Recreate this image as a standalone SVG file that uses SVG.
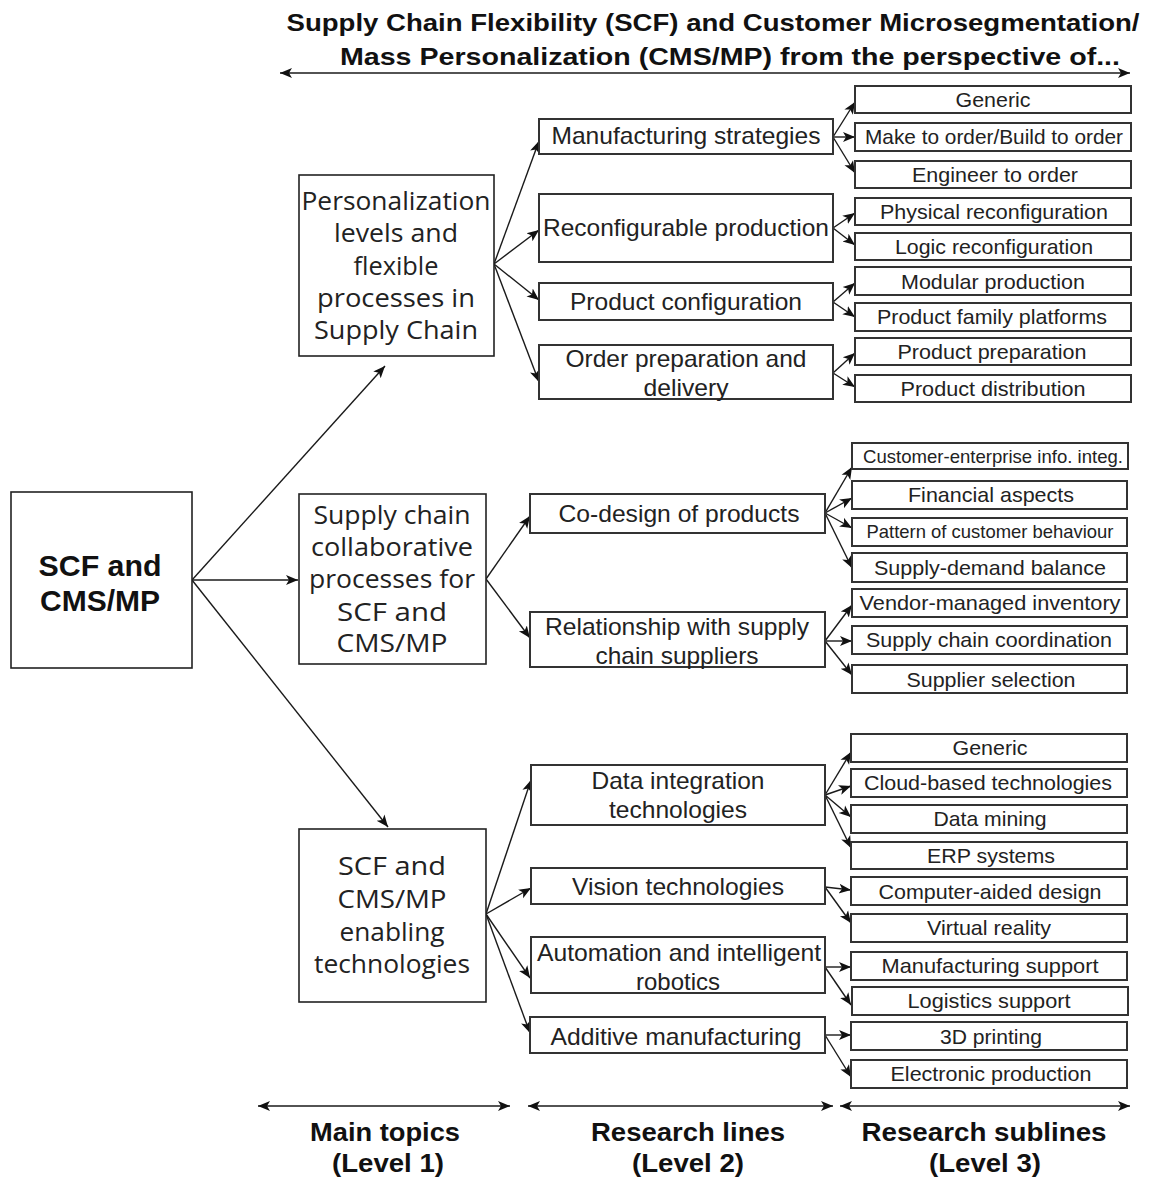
<svg xmlns="http://www.w3.org/2000/svg" width="1152" height="1178" viewBox="0 0 1152 1178">
<style>
.bx{fill:#fff;stroke:#333;stroke-width:2}
.bx1{fill:#fff;stroke:#222;stroke-width:1.6}
.c{fill:none;stroke:#1a1a1a;stroke-width:1.4}
text{text-anchor:middle;fill:#222}
.t1{font-family:"Open Sans","Liberation Sans",sans-serif;font-size:25px}
.t2{font-family:"Liberation Sans",Arial,sans-serif;font-size:24px}
.t3{font-family:"Liberation Sans",Arial,sans-serif;font-size:21px}
.t3s{font-family:"Liberation Sans",Arial,sans-serif;font-size:19px}
.hb{font-family:"Liberation Sans",Arial,sans-serif;font-weight:bold;fill:#111}
</style>
<defs>
<marker id="ah" markerUnits="userSpaceOnUse" markerWidth="13" markerHeight="13" viewBox="0 0 13 13" refX="12" refY="6.5" orient="auto-start-reverse">
<path d="M0,1.5 L12,6.5 L0,11.5 L3,6.5 z" fill="#111"/>
</marker>
</defs>

<g id="title">
<text class="hb" x="713" y="31" font-size="24" textLength="853" lengthAdjust="spacingAndGlyphs">Supply Chain Flexibility (SCF) and Customer Microsegmentation/</text>
<text class="hb" x="730" y="65" font-size="24" textLength="780" lengthAdjust="spacingAndGlyphs">Mass Personalization (CMS/MP) from the perspective of...</text>
</g>

<g id="connectors">
<line class="c" x1="280" y1="73" x2="1130" y2="73" marker-start="url(#ah)" marker-end="url(#ah)"/>
<line class="c" x1="258" y1="1106" x2="510" y2="1106" marker-start="url(#ah)" marker-end="url(#ah)"/>
<line class="c" x1="528" y1="1106" x2="833" y2="1106" marker-start="url(#ah)" marker-end="url(#ah)"/>
<line class="c" x1="840" y1="1106" x2="1130" y2="1106" marker-start="url(#ah)" marker-end="url(#ah)"/>

<line class="c" x1="192" y1="580" x2="385" y2="366" marker-end="url(#ah)"/>
<line class="c" x1="192" y1="580" x2="298" y2="580" marker-end="url(#ah)"/>
<line class="c" x1="192" y1="580" x2="388" y2="827" marker-end="url(#ah)"/>

<line class="c" x1="494" y1="264" x2="539" y2="141" marker-end="url(#ah)"/>
<line class="c" x1="494" y1="264" x2="539" y2="230" marker-end="url(#ah)"/>
<line class="c" x1="494" y1="264" x2="539" y2="300" marker-end="url(#ah)"/>
<line class="c" x1="494" y1="264" x2="539" y2="382" marker-end="url(#ah)"/>

<line class="c" x1="486" y1="579" x2="530" y2="516" marker-end="url(#ah)"/>
<line class="c" x1="486" y1="579" x2="530" y2="638" marker-end="url(#ah)"/>

<line class="c" x1="486" y1="914" x2="531" y2="780" marker-end="url(#ah)"/>
<line class="c" x1="486" y1="914" x2="531" y2="888" marker-end="url(#ah)"/>
<line class="c" x1="486" y1="914" x2="530" y2="978" marker-end="url(#ah)"/>
<line class="c" x1="486" y1="914" x2="530" y2="1033" marker-end="url(#ah)"/>

<line class="c" x1="833" y1="137" x2="855" y2="102" marker-end="url(#ah)"/>
<line class="c" x1="833" y1="137" x2="855" y2="137" marker-end="url(#ah)"/>
<line class="c" x1="833" y1="137" x2="855" y2="173" marker-end="url(#ah)"/>
<line class="c" x1="833" y1="228" x2="855" y2="213" marker-end="url(#ah)"/>
<line class="c" x1="833" y1="228" x2="855" y2="245" marker-end="url(#ah)"/>
<line class="c" x1="833" y1="302" x2="855" y2="283" marker-end="url(#ah)"/>
<line class="c" x1="833" y1="302" x2="855" y2="317" marker-end="url(#ah)"/>
<line class="c" x1="833" y1="373" x2="855" y2="353" marker-end="url(#ah)"/>
<line class="c" x1="833" y1="373" x2="855" y2="387" marker-end="url(#ah)"/>

<line class="c" x1="825" y1="513" x2="852" y2="467" marker-end="url(#ah)"/>
<line class="c" x1="825" y1="513" x2="852" y2="498" marker-end="url(#ah)"/>
<line class="c" x1="825" y1="513" x2="852" y2="528" marker-end="url(#ah)"/>
<line class="c" x1="825" y1="513" x2="852" y2="568" marker-end="url(#ah)"/>
<line class="c" x1="825" y1="641" x2="852" y2="605" marker-end="url(#ah)"/>
<line class="c" x1="825" y1="641" x2="852" y2="641" marker-end="url(#ah)"/>
<line class="c" x1="825" y1="641" x2="852" y2="675" marker-end="url(#ah)"/>

<line class="c" x1="825" y1="795" x2="851" y2="752" marker-end="url(#ah)"/>
<line class="c" x1="825" y1="795" x2="851" y2="786" marker-end="url(#ah)"/>
<line class="c" x1="825" y1="795" x2="851" y2="817" marker-end="url(#ah)"/>
<line class="c" x1="825" y1="795" x2="851" y2="848" marker-end="url(#ah)"/>
<line class="c" x1="825" y1="887" x2="851" y2="890" marker-end="url(#ah)"/>
<line class="c" x1="825" y1="887" x2="851" y2="923" marker-end="url(#ah)"/>
<line class="c" x1="825" y1="967" x2="851" y2="967" marker-end="url(#ah)"/>
<line class="c" x1="825" y1="967" x2="851" y2="1005" marker-end="url(#ah)"/>
<line class="c" x1="825" y1="1035" x2="851" y2="1035" marker-end="url(#ah)"/>
<line class="c" x1="825" y1="1035" x2="851" y2="1077" marker-end="url(#ah)"/>
</g>

<g id="root">
<rect class="bx1" x="11" y="492" width="181" height="176"/>
<text class="hb" x="100" y="576" font-size="30" textLength="123" lengthAdjust="spacingAndGlyphs">SCF and</text>
<text class="hb" x="100" y="611" font-size="30" textLength="120" lengthAdjust="spacingAndGlyphs">CMS/MP</text>
</g>

<g id="l1-personalization">
<rect class="bx1" x="299" y="175" width="195" height="181"/>
<text class="t1" x="396" y="210" textLength="189" lengthAdjust="spacingAndGlyphs">Personalization</text>
<text class="t1" x="396" y="242" textLength="124" lengthAdjust="spacingAndGlyphs">levels and</text>
<text class="t1" x="396" y="275" textLength="85" lengthAdjust="spacingAndGlyphs">flexible</text>
<text class="t1" x="396" y="307" textLength="158" lengthAdjust="spacingAndGlyphs">processes in</text>
<text class="t1" x="396" y="339" textLength="164" lengthAdjust="spacingAndGlyphs">Supply Chain</text>
</g>

<g id="l1-collaborative">
<rect class="bx1" x="299" y="494" width="187" height="170"/>
<text class="t1" x="392" y="524" textLength="157" lengthAdjust="spacingAndGlyphs">Supply chain</text>
<text class="t1" x="392" y="556" textLength="162" lengthAdjust="spacingAndGlyphs">collaborative</text>
<text class="t1" x="392" y="588" textLength="166" lengthAdjust="spacingAndGlyphs">processes for</text>
<text class="t1" x="392" y="621" textLength="110" lengthAdjust="spacingAndGlyphs">SCF and</text>
<text class="t1" x="392" y="652" textLength="111" lengthAdjust="spacingAndGlyphs">CMS/MP</text>
</g>

<g id="l1-technologies">
<rect class="bx1" x="299" y="829" width="187" height="173"/>
<text class="t1" x="392" y="875" textLength="108" lengthAdjust="spacingAndGlyphs">SCF and</text>
<text class="t1" x="392" y="908" textLength="109" lengthAdjust="spacingAndGlyphs">CMS/MP</text>
<text class="t1" x="392" y="941" textLength="105" lengthAdjust="spacingAndGlyphs">enabling</text>
<text class="t1" x="392" y="973" textLength="156" lengthAdjust="spacingAndGlyphs">technologies</text>
</g>

<g id="l2-manufacturing-strategies">
<rect class="bx" x="539" y="119" width="294" height="35"/>
<text class="t2" x="686" y="144" textLength="269" lengthAdjust="spacingAndGlyphs">Manufacturing strategies</text>
</g>
<g id="l2-reconfigurable">
<rect class="bx" x="539" y="194" width="294" height="68"/>
<text class="t2" x="686" y="236" textLength="286" lengthAdjust="spacingAndGlyphs">Reconfigurable production</text>
</g>
<g id="l2-product-configuration">
<rect class="bx" x="539" y="283" width="294" height="37"/>
<text class="t2" x="686" y="310" textLength="232" lengthAdjust="spacingAndGlyphs">Product configuration</text>
</g>
<g id="l2-order-preparation">
<rect class="bx" x="539" y="345" width="294" height="54"/>
<text class="t2" x="686" y="367" textLength="241" lengthAdjust="spacingAndGlyphs">Order preparation and</text>
<text class="t2" x="686" y="396" textLength="85" lengthAdjust="spacingAndGlyphs">delivery</text>
</g>

<g id="l3-generic-1"><rect class="bx" x="855" y="86" width="276" height="27"/><text class="t3" x="993" y="107" textLength="75" lengthAdjust="spacingAndGlyphs">Generic</text></g>
<g id="l3-mto"><rect class="bx" x="855" y="123" width="276" height="28"/><text class="t3" x="994" y="144" textLength="258" lengthAdjust="spacingAndGlyphs">Make to order/Build to order</text></g>
<g id="l3-eto"><rect class="bx" x="855" y="161" width="276" height="27"/><text class="t3" x="995" y="182" textLength="166" lengthAdjust="spacingAndGlyphs">Engineer to order</text></g>
<g id="l3-physical"><rect class="bx" x="855" y="198" width="276" height="27"/><text class="t3" x="994" y="219" textLength="228" lengthAdjust="spacingAndGlyphs">Physical reconfiguration</text></g>
<g id="l3-logic"><rect class="bx" x="855" y="233" width="276" height="27"/><text class="t3" x="994" y="254" textLength="198" lengthAdjust="spacingAndGlyphs">Logic reconfiguration</text></g>
<g id="l3-modular"><rect class="bx" x="855" y="267" width="276" height="28"/><text class="t3" x="993" y="289" textLength="184" lengthAdjust="spacingAndGlyphs">Modular production</text></g>
<g id="l3-family"><rect class="bx" x="855" y="303" width="276" height="28"/><text class="t3" x="992" y="324" textLength="230" lengthAdjust="spacingAndGlyphs">Product family platforms</text></g>
<g id="l3-prep"><rect class="bx" x="855" y="338" width="276" height="27"/><text class="t3" x="992" y="359" textLength="189" lengthAdjust="spacingAndGlyphs">Product preparation</text></g>
<g id="l3-distribution"><rect class="bx" x="855" y="375" width="276" height="27"/><text class="t3" x="993" y="396" textLength="185" lengthAdjust="spacingAndGlyphs">Product distribution</text></g>

<g id="l2-codesign">
<rect class="bx" x="530" y="494" width="295" height="39"/>
<text class="t2" x="679" y="522" textLength="241" lengthAdjust="spacingAndGlyphs">Co-design of products</text>
</g>
<g id="l2-relationship">
<rect class="bx" x="530" y="612" width="295" height="55"/>
<text class="t2" x="677" y="635" textLength="264" lengthAdjust="spacingAndGlyphs">Relationship with supply</text>
<text class="t2" x="677" y="664" textLength="163" lengthAdjust="spacingAndGlyphs">chain suppliers</text>
</g>

<g id="l3-cust-info"><rect class="bx" x="852" y="443" width="276" height="26"/><text class="t3s" x="993" y="463" textLength="260" lengthAdjust="spacingAndGlyphs">Customer-enterprise info. integ.</text></g>
<g id="l3-financial"><rect class="bx" x="852" y="481" width="275" height="28"/><text class="t3" x="991" y="502" textLength="166" lengthAdjust="spacingAndGlyphs">Financial aspects</text></g>
<g id="l3-pattern"><rect class="bx" x="852" y="518" width="275" height="28"/><text class="t3s" x="990" y="538" textLength="247" lengthAdjust="spacingAndGlyphs">Pattern of customer behaviour</text></g>
<g id="l3-supply-demand"><rect class="bx" x="852" y="553" width="275" height="29"/><text class="t3" x="990" y="575" textLength="232" lengthAdjust="spacingAndGlyphs">Supply-demand balance</text></g>
<g id="l3-vmi"><rect class="bx" x="852" y="589" width="275" height="28"/><text class="t3" x="990" y="610" textLength="261" lengthAdjust="spacingAndGlyphs">Vendor-managed inventory</text></g>
<g id="l3-coordination"><rect class="bx" x="852" y="626" width="275" height="28"/><text class="t3" x="989" y="647" textLength="246" lengthAdjust="spacingAndGlyphs">Supply chain coordination</text></g>
<g id="l3-supplier"><rect class="bx" x="852" y="665" width="275" height="28"/><text class="t3" x="991" y="687" textLength="169" lengthAdjust="spacingAndGlyphs">Supplier selection</text></g>

<g id="l2-data-integration">
<rect class="bx" x="531" y="765" width="294" height="60"/>
<text class="t2" x="678" y="789" textLength="173" lengthAdjust="spacingAndGlyphs">Data integration</text>
<text class="t2" x="678" y="818" textLength="138" lengthAdjust="spacingAndGlyphs">technologies</text>
</g>
<g id="l2-vision">
<rect class="bx" x="531" y="868" width="294" height="36"/>
<text class="t2" x="678" y="895" textLength="212" lengthAdjust="spacingAndGlyphs">Vision technologies</text>
</g>
<g id="l2-automation">
<rect class="bx" x="531" y="937" width="294" height="56"/>
<text class="t2" x="679" y="961" textLength="284" lengthAdjust="spacingAndGlyphs">Automation and intelligent</text>
<text class="t2" x="678" y="990" textLength="84" lengthAdjust="spacingAndGlyphs">robotics</text>
</g>
<g id="l2-additive">
<rect class="bx" x="530" y="1017" width="295" height="36"/>
<text class="t2" x="676" y="1045" textLength="251" lengthAdjust="spacingAndGlyphs">Additive manufacturing</text>
</g>

<g id="l3-generic-3"><rect class="bx" x="851" y="734" width="276" height="28"/><text class="t3" x="990" y="755" textLength="75" lengthAdjust="spacingAndGlyphs">Generic</text></g>
<g id="l3-cloud"><rect class="bx" x="851" y="769" width="276" height="28"/><text class="t3" x="988" y="790" textLength="248" lengthAdjust="spacingAndGlyphs">Cloud-based technologies</text></g>
<g id="l3-mining"><rect class="bx" x="851" y="805" width="276" height="28"/><text class="t3" x="990" y="826" textLength="113" lengthAdjust="spacingAndGlyphs">Data mining</text></g>
<g id="l3-erp"><rect class="bx" x="851" y="842" width="276" height="27"/><text class="t3" x="991" y="863" textLength="128" lengthAdjust="spacingAndGlyphs">ERP systems</text></g>
<g id="l3-cad"><rect class="bx" x="851" y="877" width="276" height="28"/><text class="t3" x="990" y="899" textLength="223" lengthAdjust="spacingAndGlyphs">Computer-aided design</text></g>
<g id="l3-vr"><rect class="bx" x="851" y="914" width="276" height="28"/><text class="t3" x="989" y="935" textLength="124" lengthAdjust="spacingAndGlyphs">Virtual reality</text></g>
<g id="l3-mfg-support"><rect class="bx" x="851" y="952" width="276" height="28"/><text class="t3" x="990" y="973" textLength="217" lengthAdjust="spacingAndGlyphs">Manufacturing support</text></g>
<g id="l3-logistics"><rect class="bx" x="852" y="987" width="276" height="28"/><text class="t3" x="989" y="1008" textLength="163" lengthAdjust="spacingAndGlyphs">Logistics support</text></g>
<g id="l3-3d"><rect class="bx" x="851" y="1022" width="276" height="28"/><text class="t3" x="991" y="1044" textLength="102" lengthAdjust="spacingAndGlyphs">3D printing</text></g>
<g id="l3-electronic"><rect class="bx" x="851" y="1060" width="276" height="28"/><text class="t3" x="991" y="1081" textLength="201" lengthAdjust="spacingAndGlyphs">Electronic production</text></g>

<g id="footer">
<text class="hb" x="385" y="1141" font-size="25" textLength="150" lengthAdjust="spacingAndGlyphs">Main topics</text>
<text class="hb" x="388" y="1172" font-size="25" textLength="112" lengthAdjust="spacingAndGlyphs">(Level 1)</text>
<text class="hb" x="688" y="1141" font-size="25" textLength="194" lengthAdjust="spacingAndGlyphs">Research lines</text>
<text class="hb" x="688" y="1172" font-size="25" textLength="112" lengthAdjust="spacingAndGlyphs">(Level 2)</text>
<text class="hb" x="984" y="1141" font-size="25" textLength="245" lengthAdjust="spacingAndGlyphs">Research sublines</text>
<text class="hb" x="985" y="1172" font-size="25" textLength="112" lengthAdjust="spacingAndGlyphs">(Level 3)</text>
</g>
</svg>
